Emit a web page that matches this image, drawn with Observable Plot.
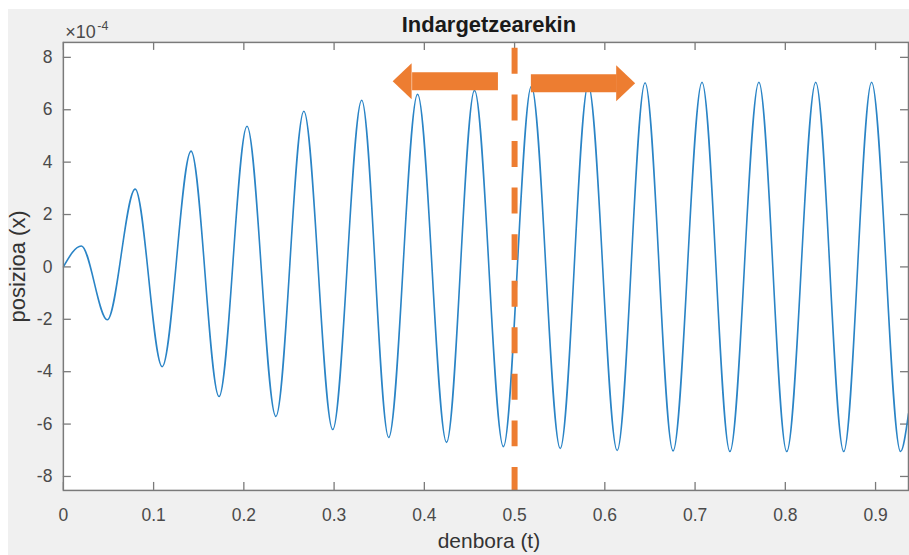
<!DOCTYPE html>
<html>
<head>
<meta charset="utf-8">
<script src="https://cdn.jsdelivr.net/npm/d3@7"></script>
<script src="https://cdn.jsdelivr.net/npm/@observablehq/plot@0.6"></script>
<style>
  html, body { margin: 0; padding: 0; }
  body { width: 909px; height: 555px; overflow: hidden; position: relative; background: #ffffff;
         font-family: "Liberation Sans", Arial, Helvetica, sans-serif; }
  #bg { position: absolute; left: 8px; top: 9px; right: 0; bottom: 0; background: #f0f0f0; }
  #chart { position: absolute; left: 0; top: 0; }
</style>
</head>
<body>
<div id="bg"></div>
<div id="chart"></div>
<script>
// ---- data (position in units of 1e-4) ----
const titleText = "Indargetzearekin";
const xLabel = "denbora (t)";
const yLabel = "posizioa (x)";
const exponentBase = "×10";
const exponentPower = "-4";

// time of each extremum (start, peaks/troughs, right edge)
const tValues = [0, 0.0199, 0.0487, 0.0796, 0.1095, 0.1415, 0.1725, 0.2035, 0.2355, 0.2665,
  0.2985, 0.3306, 0.3605, 0.3925, 0.4246, 0.4556, 0.4876, 0.5186, 0.5506, 0.5816,
  0.6137, 0.6446, 0.6756, 0.7077, 0.7386, 0.7707, 0.8016, 0.8337, 0.8647, 0.8956,
  0.9277, 0.9365];
// position at each of those times (×1e-4)
const xValues = [0, 0.80, -2.02, 2.97, -3.81, 4.42, -4.95, 5.37, -5.71, 5.94,
  -6.21, 6.36, -6.51, 6.59, -6.70, 6.74, -6.86, 6.90, -6.93, 6.95,
  -7.01, 7.03, -7.03, 7.05, -7.05, 7.05, -7.05, 7.05, -7.05, 7.05,
  -7.05, -5.6];

const xTicks = [0, 0.1, 0.2, 0.3, 0.4, 0.5, 0.6, 0.7, 0.8, 0.9];
const yTicks = [-8, -6, -4, -2, 0, 2, 4, 6, 8];
const xDomain = [0, 0.9365];
const yDomain = [-8.533, 8.571];

// annotation: dashed divider and two block arrows
const dividerT = [0.5];
const arrowTail = [0.4821, 0.5186];
const arrowBase = [0.3870, 0.6137];
const arrowTip  = [0.3649, 0.6336];
const arrowY    = [7.09, 7.01];

// ---- build ----
const series = tValues.map((t, i) => ({t, x: xValues[i]}));
const arrows = arrowTail.map((d, i) => ({tail: d, base: arrowBase[i], tip: arrowTip[i], y: arrowY[i], dir: i === 0 ? "left" : "right"}));

const orange = "#ED7D31";
const axisGrey = "#7a7a7a";
const labelGrey = "#4a4a4a";

const headRight = { draw(ctx) { ctx.moveTo(0, 0); ctx.lineTo(-19, -18); ctx.lineTo(-19, 18); ctx.closePath(); } };
const headLeft  = { draw(ctx) { ctx.moveTo(0, 0); ctx.lineTo(19, -18); ctx.lineTo(19, 18); ctx.closePath(); } };

const W = 911, H = 555, mL = 63, mR = 1, mT = 42, mB = 64;
const frameW = W - mL - mR, frameH = H - mT - mB;
const tick = 8;

const chart = Plot.plot({
  width: W,
  height: H,
  marginLeft: mL,
  marginRight: mR,
  marginTop: mT,
  marginBottom: mB,
  style: { background: "transparent", fontFamily: "'Liberation Sans', Arial, Helvetica, sans-serif", overflow: "hidden" },
  x: { domain: xDomain },
  y: { domain: yDomain },
  marks: [
    Plot.frame({ fill: "white", stroke: "none" }),
    // inward ticks on all four sides
    Plot.tickX(xTicks, { x: d => d, stroke: axisGrey, strokeWidth: 1.3, insetTop: frameH - tick }),
    Plot.tickX(xTicks, { x: d => d, stroke: axisGrey, strokeWidth: 1.3, insetBottom: frameH - tick }),
    Plot.tickY(yTicks, { y: d => d, stroke: axisGrey, strokeWidth: 1.3, insetRight: frameW - tick }),
    Plot.tickY(yTicks, { y: d => d, stroke: axisGrey, strokeWidth: 1.3, insetLeft: frameW - tick }),
    Plot.line(series, { x: "t", y: "x", curve: "monotone-x", stroke: "#2a84c6", strokeWidth: 1.6, clip: true }),
    Plot.ruleX(dividerT, { x: d => d, y1: yDomain[0], y2: yDomain[1], stroke: orange, strokeWidth: 6,
      strokeDasharray: "26,20.67", strokeDashoffset: 3 }),
    Plot.ruleY(arrows, { y: "y", x1: "tail", x2: "base", stroke: orange, strokeWidth: 18 }),
    Plot.dot(arrows.filter(d => d.dir === "left"), { x: "tip", y: "y", r: 5, symbol: headLeft, fill: orange, stroke: "none" }),
    Plot.dot(arrows.filter(d => d.dir === "right"), { x: "tip", y: "y", r: 5, symbol: headRight, fill: orange, stroke: "none" }),
    Plot.frame({ stroke: axisGrey, strokeWidth: 1.5 }),
    Plot.axisX(xTicks, { tickSize: 0, tickPadding: 18, fontSize: 17.5, fill: labelGrey, label: null, tickFormat: d => String(d) }),
    Plot.axisY(yTicks, { tickSize: 0, tickPadding: 11, fontSize: 17.5, fill: labelGrey, label: null, tickFormat: d => String(d) }),
    Plot.text([titleText], { text: d => d, frameAnchor: "top", dx: 3, dy: -10, lineAnchor: "bottom",
      fontSize: 22, fontWeight: "bold", fill: "#1a1a1a", letterSpacing: 0.8 }),
    Plot.text([exponentBase], { text: d => d, frameAnchor: "top-left", textAnchor: "start", dx: 2, dy: -4,
      lineAnchor: "bottom", fontSize: 18, fill: labelGrey }),
    Plot.text([exponentPower], { text: d => d, frameAnchor: "top-left", textAnchor: "start", dx: 34, dy: -12,
      lineAnchor: "bottom", fontSize: 12.5, fill: labelGrey }),
    Plot.text([yLabel], { text: d => d, frameAnchor: "left", rotate: -90, dx: -45, textAnchor: "middle",
      lineAnchor: "middle", fontSize: 22, fill: "#333333" }),
    Plot.text([xLabel], { text: d => d, frameAnchor: "bottom", dx: 3, dy: 58, textAnchor: "middle",
      lineAnchor: "bottom", fontSize: 21, fill: "#333333" })
  ]
});
document.getElementById("chart").appendChild(chart);
</script>
</body>
</html>
